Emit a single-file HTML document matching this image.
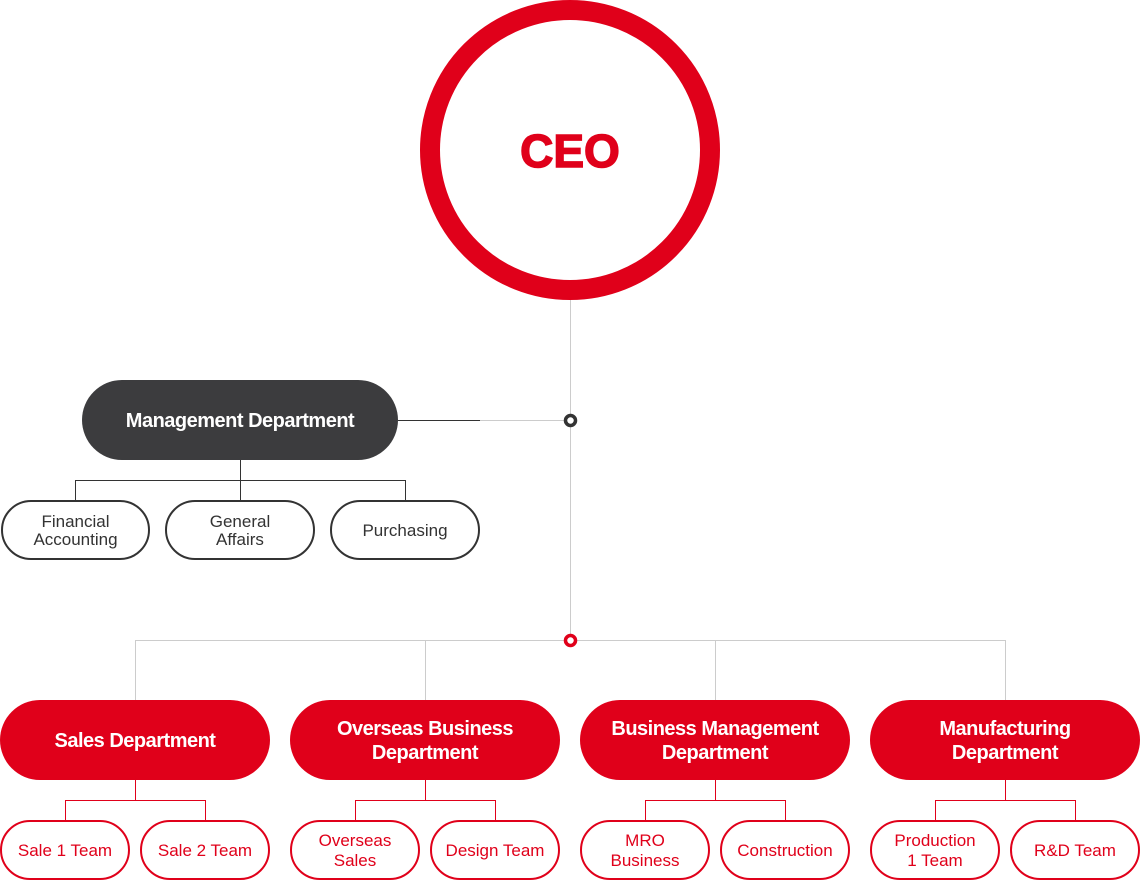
<!DOCTYPE html>
<html><head><style>
body{margin:0;width:1140px;height:880px;background:#fff;position:relative;overflow:hidden;font-family:"Liberation Sans",sans-serif}
.a{position:absolute;box-sizing:border-box;display:flex;align-items:center;justify-content:center;text-align:center;padding-top:2px}
.dark{background:#3c3c3e;color:#fff;font-weight:bold;font-size:20px;border-radius:40px;letter-spacing:-0.5px}
.sub{border:2px solid #333;border-radius:30px;color:#333;font-size:17px;line-height:18px}
.red{background:#e0001a;color:#fff;font-weight:bold;font-size:20px;border-radius:40px;line-height:24px;letter-spacing:-0.5px}
.team{border:2px solid #e0001a;border-radius:30px;color:#e0001a;font-size:17px;line-height:20px}
</style></head><body>
<svg width="1140" height="880" style="position:absolute;left:0;top:0">
<circle cx="570" cy="150" r="140" fill="none" stroke="#e0001a" stroke-width="20"/>
<text x="570" y="167" text-anchor="middle" font-family="Liberation Sans" font-weight="bold" font-size="46" fill="#e0001a" stroke="#e0001a" stroke-width="1.5">CEO</text>
<g stroke="#ccc" stroke-width="1" fill="none">
<line x1="570.5" y1="300" x2="570.5" y2="640"/>
<line x1="480" y1="420.5" x2="570" y2="420.5"/>
<line x1="135" y1="640.5" x2="1005" y2="640.5"/>
<line x1="135.5" y1="640" x2="135.5" y2="700"/>
<line x1="425.5" y1="640" x2="425.5" y2="700"/>
<line x1="715.5" y1="640" x2="715.5" y2="700"/>
<line x1="1005.5" y1="640" x2="1005.5" y2="700"/>
</g>
<g stroke="#333" stroke-width="1" fill="none">
<line x1="398" y1="420.5" x2="480" y2="420.5"/>
<line x1="240.5" y1="460" x2="240.5" y2="500"/>
<polyline points="75.5,500 75.5,480.5 405.5,480.5 405.5,500"/>
</g>
<g stroke="#e0001a" stroke-width="1" fill="none">
<line x1="135.5" y1="780" x2="135.5" y2="800"/><polyline points="65.5,820 65.5,800.5 205.5,800.5 205.5,820"/>
<line x1="425.5" y1="780" x2="425.5" y2="800"/><polyline points="355.5,820 355.5,800.5 495.5,800.5 495.5,820"/>
<line x1="715.5" y1="780" x2="715.5" y2="800"/><polyline points="645.5,820 645.5,800.5 785.5,800.5 785.5,820"/>
<line x1="1005.5" y1="780" x2="1005.5" y2="800"/><polyline points="935.5,820 935.5,800.5 1075.5,800.5 1075.5,820"/>
</g>
<circle cx="570.5" cy="420.5" r="5" fill="#fff" stroke="#333" stroke-width="3.5"/>
<circle cx="570.5" cy="640.5" r="5" fill="#fff" stroke="#e0001a" stroke-width="3.5"/>
</svg>
<div class="a dark" style="left:82px;top:380px;width:316px;height:80px">Management Department</div>
<div class="a sub" style="left:1px;top:500px;width:149px;height:60px">Financial<br>Accounting</div>
<div class="a sub" style="left:165px;top:500px;width:150px;height:60px">General<br>Affairs</div>
<div class="a sub" style="left:330px;top:500px;width:150px;height:60px">Purchasing</div>
<div class="a red" style="left:0;top:700px;width:270px;height:80px">Sales Department</div>
<div class="a red" style="left:290px;top:700px;width:270px;height:80px">Overseas Business<br>Department</div>
<div class="a red" style="left:580px;top:700px;width:270px;height:80px">Business Management<br>Department</div>
<div class="a red" style="left:870px;top:700px;width:270px;height:80px">Manufacturing<br>Department</div>
<div class="a team" style="left:0;top:820px;width:130px;height:60px">Sale 1 Team</div>
<div class="a team" style="left:140px;top:820px;width:130px;height:60px">Sale 2 Team</div>
<div class="a team" style="left:290px;top:820px;width:130px;height:60px">Overseas<br>Sales</div>
<div class="a team" style="left:430px;top:820px;width:130px;height:60px">Design Team</div>
<div class="a team" style="left:580px;top:820px;width:130px;height:60px">MRO<br>Business</div>
<div class="a team" style="left:720px;top:820px;width:130px;height:60px">Construction</div>
<div class="a team" style="left:870px;top:820px;width:130px;height:60px">Production<br>1 Team</div>
<div class="a team" style="left:1010px;top:820px;width:130px;height:60px">R&amp;D Team</div>
</body></html>
